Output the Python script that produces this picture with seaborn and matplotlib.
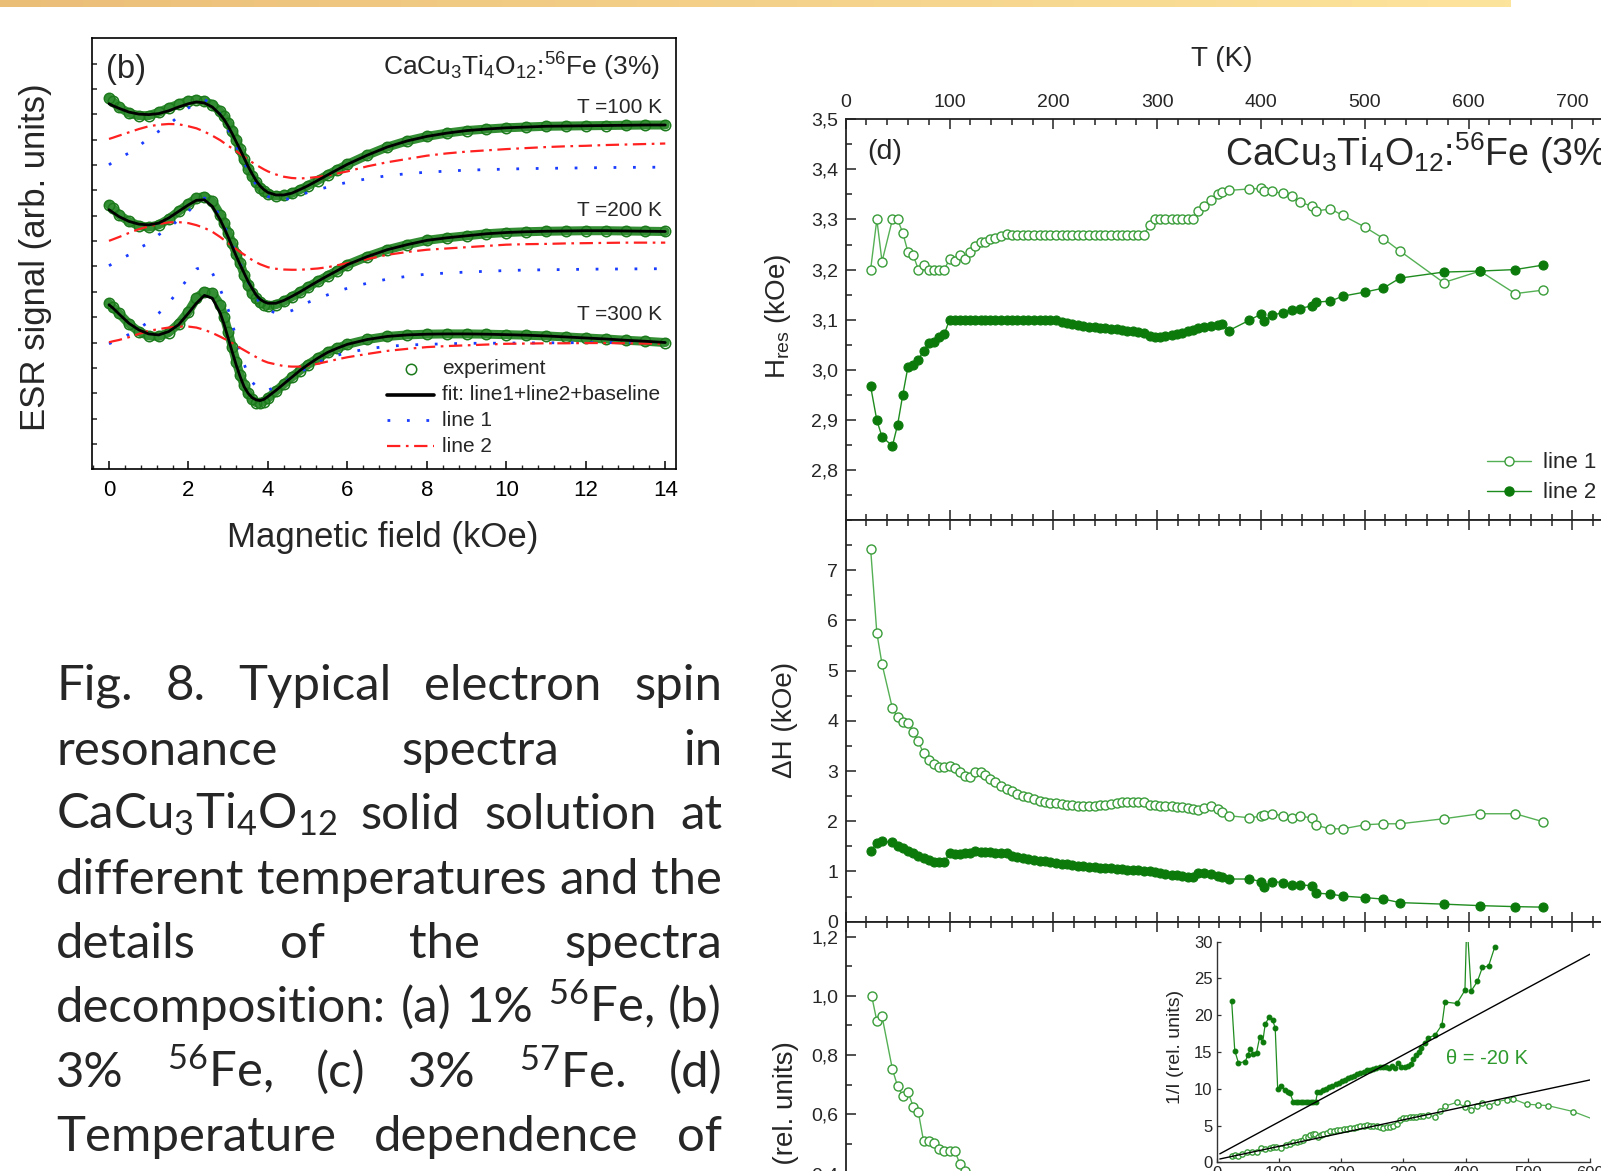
import numpy as np
import matplotlib
matplotlib.use("Agg")
import matplotlib.pyplot as plt
import seaborn as sns
from matplotlib import font_manager
from matplotlib.lines import Line2D
from matplotlib.ticker import MultipleLocator, FuncFormatter, NullFormatter, FixedLocator
from matplotlib.colors import LinearSegmentedColormap

# ---------------- panel (b): ESR spectra (arb. units, tick spacing = 1) ----------------
field_kOe = [0, 0.1, 0.25, 0.5, 0.75, 1.0, 1.25, 1.5, 1.75, 2.0,
             2.2, 2.4, 2.6, 2.8, 2.9, 3.0, 3.1, 3.2, 3.3, 3.4,
             3.5, 3.6, 3.7, 3.8, 3.9, 4.0, 4.2, 4.4, 4.6, 4.8,
             5.0, 5.25, 5.5, 5.75, 6.0, 6.5, 7.0, 7.5, 8.0, 8.5,
             9.0, 9.5, 10, 10.5, 11, 11.5, 12, 12.5, 13, 13.5,
             14]

exp_100K = [14.64, 14.51, 14.29, 14.05, 13.95, 13.95, 14.08, 14.25, 14.40, 14.53,
            14.57, 14.52, 14.38, 14.12, 13.92, 13.66, 13.36, 13.00, 12.62, 12.22,
            11.86, 11.57, 11.32, 11.10, 10.96, 10.86, 10.78, 10.80, 10.88, 11.02,
            11.18, 11.39, 11.61, 11.82, 12.03, 12.39, 12.71, 12.95, 13.13, 13.26,
            13.36, 13.42, 13.47, 13.50, 13.53, 13.54, 13.55, 13.56, 13.57, 13.58,
            13.58]
fit_100K = [14.42, 14.34, 14.24, 14.09, 14.01, 13.99, 14.03, 14.14, 14.29, 14.42,
            14.49, 14.45, 14.29, 13.99, 13.79, 13.53, 13.24, 12.92, 12.61, 12.28,
            11.95, 11.66, 11.39, 11.18, 11.03, 10.92, 10.82, 10.82, 10.89, 11.03,
            11.18, 11.39, 11.61, 11.82, 12.03, 12.39, 12.71, 12.95, 13.13, 13.26,
            13.36, 13.42, 13.47, 13.50, 13.53, 13.54, 13.55, 13.56, 13.57, 13.58,
            13.58]
line1_100K = [12.01, 12.12, 12.28, 12.47, 12.74, 13.07, 13.33, 13.59, 13.92, 14.25,
              14.47, 14.58, 14.42, 13.99, 13.70, 13.39, 13.07, 12.74, 12.42, 12.11,
              11.79, 11.49, 11.24, 11.03, 10.88, 10.76, 10.66, 10.63, 10.70, 10.80,
              10.92, 11.03, 11.13, 11.23, 11.32, 11.46, 11.58, 11.66, 11.72, 11.76,
              11.80, 11.82, 11.84, 11.86, 11.87, 11.88, 11.89, 11.90, 11.91, 11.91,
              11.92]
line2_100K = [13.03, 13.08, 13.16, 13.29, 13.42, 13.53, 13.59, 13.62, 13.61, 13.53,
              13.45, 13.32, 13.16, 12.98, 12.87, 12.76, 12.66, 12.55, 12.44, 12.33,
              12.21, 12.11, 12.01, 11.92, 11.83, 11.75, 11.63, 11.54, 11.49, 11.47,
              11.49, 11.53, 11.59, 11.67, 11.75, 11.95, 12.11, 12.24, 12.37, 12.46,
              12.53, 12.58, 12.63, 12.67, 12.71, 12.74, 12.76, 12.79, 12.81, 12.83,
              12.85]

exp_200K = [10.43, 10.30, 10.04, 9.78, 9.61, 9.55, 9.64, 9.87, 10.17, 10.47,
            10.70, 10.76, 10.57, 10.04, 9.71, 9.32, 8.92, 8.50, 8.13, 7.67,
            7.28, 6.95, 6.75, 6.58, 6.49, 6.45, 6.49, 6.62, 6.80, 6.98,
            7.18, 7.41, 7.63, 7.84, 8.07, 8.39, 8.66, 8.86, 9.03, 9.13,
            9.21, 9.29, 9.34, 9.37, 9.39, 9.40, 9.41, 9.41, 9.40, 9.39,
            9.38]
fit_200K = [10.24, 10.13, 9.97, 9.78, 9.67, 9.64, 9.71, 9.91, 10.17, 10.43,
            10.61, 10.63, 10.37, 9.84, 9.51, 9.16, 8.79, 8.42, 8.07, 7.74,
            7.41, 7.14, 6.88, 6.71, 6.61, 6.55, 6.55, 6.66, 6.82, 6.99,
            7.18, 7.41, 7.63, 7.84, 8.07, 8.39, 8.66, 8.86, 9.03, 9.13,
            9.21, 9.29, 9.34, 9.37, 9.39, 9.40, 9.41, 9.41, 9.40, 9.39,
            9.38]
line1_200K = [8.03, 8.12, 8.26, 8.46, 8.72, 8.92, 9.25, 9.51, 9.84, 10.17,
              10.53, 10.70, 10.50, 9.97, 9.62, 9.25, 8.87, 8.50, 8.12, 7.74,
              7.40, 7.08, 6.80, 6.55, 6.40, 6.29, 6.16, 6.16, 6.26, 6.42,
              6.58, 6.73, 6.88, 7.02, 7.14, 7.34, 7.50, 7.61, 7.70, 7.74,
              7.78, 7.81, 7.84, 7.86, 7.87, 7.88, 7.89, 7.90, 7.90, 7.91,
              7.91]
line2_200K = [9.01, 9.07, 9.16, 9.32, 9.47, 9.58, 9.67, 9.74, 9.75, 9.71,
              9.63, 9.52, 9.37, 9.16, 9.04, 8.92, 8.80, 8.69, 8.57, 8.47,
              8.36, 8.26, 8.17, 8.09, 8.03, 7.97, 7.91, 7.88, 7.87, 7.87,
              7.89, 7.92, 7.97, 8.05, 8.13, 8.29, 8.46, 8.57, 8.66, 8.71,
              8.76, 8.81, 8.86, 8.88, 8.89, 8.91, 8.92, 8.93, 8.94, 8.94,
              8.94]

exp_300K = [6.55, 6.39, 6.16, 5.74, 5.43, 5.26, 5.24, 5.39, 5.74, 6.22,
            6.75, 7.01, 6.95, 6.49, 6.00, 5.43, 4.84, 4.25, 3.72, 3.33,
            3.00, 2.76, 2.63, 2.61, 2.67, 2.80, 3.08, 3.36, 3.63, 3.89,
            4.12, 4.38, 4.61, 4.78, 4.93, 5.12, 5.24, 5.30, 5.33, 5.34,
            5.34, 5.33, 5.31, 5.29, 5.26, 5.22, 5.18, 5.14, 5.09, 5.05,
            5.00]
fit_300K = [6.49, 6.36, 6.13, 5.76, 5.50, 5.34, 5.30, 5.43, 5.70, 6.16,
            6.55, 6.86, 6.75, 6.16, 5.70, 5.17, 4.64, 4.12, 3.66, 3.26,
            3.00, 2.83, 2.74, 2.71, 2.76, 2.87, 3.11, 3.37, 3.63, 3.89,
            4.12, 4.38, 4.61, 4.78, 4.93, 5.12, 5.24, 5.30, 5.33, 5.34,
            5.34, 5.33, 5.31, 5.29, 5.26, 5.22, 5.18, 5.14, 5.09, 5.05,
            5.00]
line1_300K = [4.95, 5.02, 5.12, 5.32, 5.55, 5.82, 6.15, 6.55, 7.05, 7.55,
              7.90, 8.00, 7.75, 7.10, 6.70, 6.30, 5.75, 5.20, 4.65, 4.15,
              3.75, 3.45, 3.27, 3.15, 3.11, 3.12, 3.25, 3.42, 3.62, 3.82,
              4.00, 4.20, 4.38, 4.50, 4.60, 4.75, 4.85, 4.90, 4.93, 4.95,
              4.97, 4.97, 4.98, 4.98, 4.99, 4.99, 5.00, 5.00, 5.00, 5.00,
              5.00]
line2_300K = [5.01, 5.05, 5.10, 5.21, 5.34, 5.46, 5.53, 5.59, 5.63, 5.63,
              5.59, 5.50, 5.38, 5.23, 5.15, 5.08, 4.98, 4.89, 4.79, 4.70,
              4.61, 4.52, 4.43, 4.34, 4.27, 4.21, 4.14, 4.07, 4.05, 4.05,
              4.09, 4.16, 4.25, 4.34, 4.42, 4.55, 4.67, 4.75, 4.82, 4.86,
              4.89, 4.92, 4.95, 4.96, 4.97, 4.97, 4.98, 4.98, 4.97, 4.96,
              4.95]

spectrum_labels = ["T =100 K", "T =200 K", "T =300 K"]
spectrum_label_y = [14.29, 10.20, 6.11]
legend_b_labels = ["experiment", "fit: line1+line2+baseline", "line 1", "line 2"]

# ---------------- panel (d): temperature dependences ----------------
T_K = [24, 30, 35, 45, 50, 55, 60, 65, 70, 75,
       80, 85, 90, 95, 100, 105, 110, 115, 120, 125,
       130, 134, 139, 144, 150, 155, 160, 165, 171, 176,
       181, 187, 192, 197, 203, 208, 213, 218, 224, 229,
       234, 240, 245, 250, 256, 261, 266, 271, 277, 282,
       287, 293, 298, 303, 308, 314, 319, 324, 330, 335,
       339, 345, 352, 359, 363, 369, 389, 400, 403, 411,
       421, 430, 438, 449, 453, 467, 479, 500, 518, 534,
       576, 611, 645, 672]

Hres_line1 = [3.200, 3.300, 3.216, 3.300, 3.300, 3.273, 3.235, 3.229, 3.200, 3.210,
              3.200, 3.200, 3.200, 3.200, 3.221, 3.217, 3.229, 3.221, 3.235, 3.247,
              3.255, 3.256, 3.262, 3.264, 3.268, 3.271, 3.270, 3.270, 3.270, 3.270,
              3.270, 3.270, 3.270, 3.270, 3.270, 3.270, 3.270, 3.270, 3.270, 3.270,
              3.270, 3.270, 3.270, 3.270, 3.270, 3.270, 3.270, 3.270, 3.270, 3.270,
              3.270, 3.288, 3.300, 3.300, 3.300, 3.300, 3.300, 3.300, 3.300, 3.300,
              3.316, 3.327, 3.338, 3.350, 3.355, 3.358, 3.361, 3.362, 3.356, 3.356,
              3.352, 3.346, 3.334, 3.327, 3.317, 3.321, 3.308, 3.285, 3.262, 3.237,
              3.174, 3.197, 3.152, 3.159]
Hres_line2 = [2.967, 2.899, 2.866, 2.848, 2.890, 2.950, 3.006, 3.009, 3.020, 3.038,
              3.053, 3.056, 3.065, 3.071, 3.100, 3.100, 3.100, 3.100, 3.100, 3.100,
              3.100, 3.100, 3.100, 3.100, 3.100, 3.100, 3.100, 3.100, 3.100, 3.100,
              3.100, 3.100, 3.100, 3.100, 3.099, 3.095, 3.093, 3.091, 3.089, 3.087,
              3.086, 3.085, 3.083, 3.083, 3.082, 3.081, 3.080, 3.078, 3.077, 3.075,
              3.073, 3.068, 3.065, 3.065, 3.067, 3.069, 3.071, 3.074, 3.077, 3.080,
              3.083, 3.086, 3.088, 3.090, 3.091, 3.078, 3.099, 3.111, 3.098, 3.109,
              3.114, 3.120, 3.122, 3.128, 3.135, 3.137, 3.147, 3.155, 3.163, 3.183,
              3.195, 3.197, 3.200, 3.209]
dH_line1 = [7.43, 5.75, 5.13, 4.25, 4.07, 3.97, 3.95, 3.78, 3.59, 3.35,
            3.23, 3.15, 3.09, 3.09, 3.10, 3.07, 2.99, 2.91, 2.88, 2.98,
            2.98, 2.92, 2.85, 2.78, 2.71, 2.65, 2.60, 2.55, 2.51, 2.49,
            2.45, 2.41, 2.39, 2.37, 2.37, 2.35, 2.33, 2.32, 2.31, 2.31,
            2.31, 2.31, 2.32, 2.33, 2.35, 2.37, 2.38, 2.38, 2.38, 2.39,
            2.38, 2.33, 2.32, 2.31, 2.31, 2.30, 2.29, 2.28, 2.27, 2.25,
            2.23, 2.26, 2.30, 2.24, 2.19, 2.11, 2.07, 2.10, 2.12, 2.15,
            2.11, 2.07, 2.10, 2.07, 1.92, 1.85, 1.85, 1.93, 1.95, 1.95,
            2.05, 2.15, 2.15, 1.99]
dH_line2 = [1.40, 1.57, 1.60, 1.58, 1.51, 1.47, 1.40, 1.37, 1.31, 1.27,
            1.22, 1.19, 1.18, 1.18, 1.37, 1.35, 1.35, 1.36, 1.37, 1.40,
            1.39, 1.38, 1.38, 1.37, 1.37, 1.36, 1.31, 1.29, 1.27, 1.25,
            1.23, 1.21, 1.20, 1.18, 1.17, 1.15, 1.14, 1.13, 1.11, 1.11,
            1.09, 1.09, 1.07, 1.07, 1.06, 1.05, 1.04, 1.03, 1.03, 1.02,
            1.01, 1.00, 0.99, 0.97, 0.95, 0.94, 0.93, 0.91, 0.90, 0.89,
            0.97, 0.96, 0.95, 0.92, 0.90, 0.85, 0.85, 0.80, 0.70, 0.80,
            0.78, 0.73, 0.73, 0.72, 0.57, 0.55, 0.51, 0.48, 0.45, 0.38,
            0.35, 0.32, 0.30, 0.29]

T_int = [25, 30, 35, 45, 50, 55, 60, 65, 70, 75, 80, 85, 90, 95, 100, 105, 110, 115, 120]
I_line1 = [1.000, 0.915, 0.931, 0.752, 0.695, 0.663, 0.676, 0.626, 0.607, 0.510,
           0.510, 0.504, 0.483, 0.476, 0.476, 0.477, 0.433, 0.409, 0.380]

# inset: 1/I vs T
T_inv_line2 = [24, 29, 35, 46, 50, 54, 59, 64, 69, 74,
               78, 84, 90, 94, 98, 104, 109, 114, 118, 123,
               127, 131, 135, 139, 143, 147, 151, 155, 159, 162,
               166, 171, 176, 181, 186, 191, 196, 201, 206, 211,
               216, 221, 226, 231, 236, 241, 246, 251, 256, 262,
               267, 272, 277, 282, 287, 292, 297, 302, 308, 312,
               316, 321, 325, 329, 335, 339, 351, 362, 367, 386,
               399, 402, 409, 419, 427, 437, 447]
inv_line2 = [22.0, 15.2, 13.5, 13.7, 14.6, 15.4, 14.7, 14.9, 17.0, 16.4,
             18.8, 19.7, 19.3, 18.3, 10.0, 10.4, 9.9, 9.5, 9.4, 8.2,
             8.2, 8.2, 8.2, 8.2, 8.2, 8.2, 8.2, 8.2, 8.2, 9.5,
             9.6, 9.8, 10.0, 10.2, 10.4, 10.6, 10.8, 11.0, 11.2, 11.4,
             11.6, 11.8, 12.0, 12.2, 12.3, 12.5, 12.6, 12.7, 12.8, 12.9,
             12.9, 13.0, 12.8, 13.1, 12.8, 13.5, 13.0, 12.9, 13.1, 13.4,
             14.0, 14.6, 15.0, 15.5, 16.2, 16.9, 17.3, 18.7, 21.8, 21.6,
             23.4, 33.0, 23.3, 24.6, 26.5, 26.7, 29.3]
T_inv_line1 = [24, 29, 35, 41, 48, 56, 64, 72, 78, 86,
               91, 96, 104, 112, 118, 123, 129, 134, 138, 142,
               146, 150, 154, 158, 163, 167, 171, 177, 182, 188,
               193, 198, 204, 209, 214, 220, 225, 230, 236, 241,
               246, 252, 257, 262, 268, 273, 279, 284, 289, 295,
               300, 305, 311, 316, 321, 327, 332, 340, 351, 359,
               367, 386, 399, 402, 409, 419, 427, 437, 450, 466,
               477, 498, 517, 533, 573, 610]
inv_line1 = [0.9, 1.0, 0.9, 1.1, 1.35, 1.45, 1.45, 1.9, 1.8, 2.0,
             2.1, 2.05, 1.9, 2.35, 2.5, 2.7, 2.8, 2.95, 3.1, 3.4,
             3.5, 3.7, 3.8, 3.9, 3.5, 3.7, 3.8, 4.0, 4.2, 4.3,
             4.4, 4.45, 4.5, 4.55, 4.6, 4.7, 4.85, 4.9, 5.0, 5.05,
             5.0, 5.0, 4.9, 4.85, 4.7, 4.75, 4.85, 4.9, 5.2, 5.75,
             6.0, 6.05, 6.1, 6.15, 6.2, 6.25, 6.3, 6.4, 6.2, 7.0,
             7.65, 8.15, 7.5, 8.0, 7.1, 7.6, 8.0, 7.65, 8.25, 8.5,
             8.6, 7.9, 7.8, 7.7, 6.9, 5.7]
fit_T = [5, 600]
fit_inv_line2 = [1.15, 28.3]
fit_inv_line1 = [0.45, 11.2]

caption_lines = [
    ["Fig.", "8.", "Typical", "electron", "spin"],
    ["resonance", "spectra", "in"],
    [r"CaCu$_3$Ti$_4$O$_{12}$", "solid", "solution", "at"],
    ["different", "temperatures", "and", "the"],
    ["details", "of", "the", "spectra"],
    ["decomposition:", "(a)", "1%", r"$^{56}$Fe,", "(b)"],
    ["3%", r"$^{56}$Fe,", "(c)", "3%", r"$^{57}$Fe.", "(d)"],
    ["Temperature", "dependence", "of"],
]

# ---------------- styling ----------------
sns.set_theme(style="ticks")
plt.rcParams["font.family"] = ["Liberation Sans", "DejaVu Sans"]
plt.rcParams["mathtext.default"] = "regular"
plt.rcParams["axes.unicode_minus"] = False

_names = {f.name for f in font_manager.fontManager.ttflist}
if "Liberation Sans Narrow" in _names:
    NARROW = ["Liberation Sans Narrow", "Liberation Sans", "DejaVu Sans"]
    NS = 1.2
else:
    NARROW = ["Liberation Sans", "DejaVu Sans"]
    NS = 1.0

W_PX, H_PX = 1601, 1171
fig = plt.figure(figsize=(W_PX / 100, H_PX / 100), dpi=100)
fig.patch.set_facecolor("white")


def rect(l, t, r, b):
    return [l / W_PX, 1 - b / H_PX, (r - l) / W_PX, (b - t) / H_PX]


def fx(x):
    return x / W_PX


def fy(y):
    return 1 - y / H_PX


# top decorative banner
axban = fig.add_axes(rect(0, 0, 1510, 7))
axban.imshow(np.linspace(0, 1, 256)[None, :], aspect="auto",
             cmap=LinearSegmentedColormap.from_list("ban", ["#EBBE78", "#FDE49C"]))
axban.axis("off")

# ---------------- panel (b) ----------------
EXP_EDGE = "#1c7a1c"
EXP_BAND = "#348f34"
BLUE = "#1a3cff"
RED = "#ff2020"
DOT = (0, (1, 6))
DASHDOT = (0, (6, 2.5, 1.2, 2.5))

axb = fig.add_axes(rect(92.3, 38.3, 676, 469.3))
spectra = [(exp_100K, fit_100K, line1_100K, line2_100K),
           (exp_200K, fit_200K, line1_200K, line2_200K),
           (exp_300K, fit_300K, line1_300K, line2_300K)]
for ex, fit, l1, l2 in spectra:
    sns.lineplot(x=field_kOe, y=ex, ax=axb, estimator=None, sort=False, color=EXP_BAND,
                 lw=6.5, marker="o", ms=7.5, markerfacecolor="none",
                 markeredgecolor=EXP_EDGE, markeredgewidth=1.1, zorder=2)
    sns.lineplot(x=field_kOe, y=l1, ax=axb, estimator=None, sort=False, color=BLUE,
                 lw=2.0, linestyle=DOT, zorder=3)
    sns.lineplot(x=field_kOe, y=l2, ax=axb, estimator=None, sort=False, color=RED,
                 lw=1.6, linestyle=DASHDOT, zorder=3)
    sns.lineplot(x=field_kOe, y=fit, ax=axb, estimator=None, sort=False, color="black",
                 lw=2.0, zorder=4)

axb.set_xlim(-0.42, 14.27)
axb.set_ylim(0, 17)
axb.set_xlabel("")
axb.set_ylabel("")
axb.xaxis.set_major_locator(MultipleLocator(2))
axb.xaxis.set_minor_locator(MultipleLocator(0.4))
axb.yaxis.set_major_locator(FixedLocator(list(range(1, 17))))
axb.yaxis.set_major_formatter(NullFormatter())
axb.tick_params(axis="x", which="major", direction="in", length=6, width=1.1,
                labelsize=16 * NS, labelfontfamily=NARROW, pad=8, top=False, colors="black")
axb.tick_params(axis="x", which="minor", direction="in", length=3, width=1.0, top=False)
axb.tick_params(axis="y", which="major", direction="in", length=3.5, width=1.1,
                left=True, right=False)
for sp in axb.spines.values():
    sp.set_linewidth(1.2)
    sp.set_color("black")

for lab, yy in zip(spectrum_labels, spectrum_label_y):
    axb.text(13.92, yy, lab, ha="right", va="center", fontsize=15 * NS, family=NARROW)

fig.text(fx(106), fy(78), "(b)", fontsize=23.5 * NS, family=NARROW, ha="left", va="baseline")
fig.text(fx(660), fy(76), r"CaCu$_3$Ti$_4$O$_{12}$:$^{56}$Fe (3%)", fontsize=19 * NS,
         family=NARROW, ha="right", va="baseline")
fig.text(fx(383), fy(538), "Magnetic field (kOe)", fontsize=25 * NS, family=NARROW,
         ha="center", va="center")
fig.text(fx(36), fy(257), "ESR signal (arb. units)", fontsize=25, rotation=90,
         ha="center", va="center")

# legend of (b), drawn entry by entry
hb = [dict(ls="none", marker="o", ms=7.5, mfc="none", mec=EXP_EDGE, mew=1.1),
      dict(color="black", lw=2.6),
      dict(color=BLUE, lw=2.0, ls=DOT),
      dict(color=RED, lw=1.6, ls=DASHDOT)]
leg_rows = [368.6, 395.0, 420.0, 446.2]
for kw, lab, yy in zip(hb, legend_b_labels, leg_rows):
    if kw.get("marker"):
        fig.add_artist(Line2D([fx(411)], [fy(yy)], transform=fig.transFigure, **kw))
    else:
        fig.add_artist(Line2D([fx(387), fx(434)], [fy(yy), fy(yy)], transform=fig.transFigure, **kw))
    fig.text(fx(441.7), fy(yy), lab, fontsize=15 * NS, family=NARROW, ha="left", va="center")

# ---------------- panel (d) ----------------
G_OPEN = "#3a9d3a"
G_FILL = "#0b7a0b"
G_LINE1 = "#55b055"
G_LINE2 = "#1f8c1f"

ax1 = fig.add_axes(rect(845.7, 119.3, 1624.2, 520))
ax2 = fig.add_axes(rect(845.7, 520, 1624.2, 921.7))
ax3 = fig.add_axes(rect(845.7, 921.7, 1624.2, 1321.7))


def open_series(ax, x, y, ms=6.5, lw=1.0):
    sns.lineplot(x=x, y=y, ax=ax, estimator=None, sort=False, color=G_LINE1, lw=lw,
                 marker="o", ms=ms, markerfacecolor="white", markeredgecolor=G_OPEN,
                 markeredgewidth=1.0, zorder=3)


def filled_series(ax, x, y, ms=6.5, lw=1.0):
    sns.lineplot(x=x, y=y, ax=ax, estimator=None, sort=False, color=G_LINE2, lw=lw,
                 marker="o", ms=ms, markerfacecolor=G_FILL, markeredgecolor=G_FILL,
                 markeredgewidth=0.8, zorder=3)


open_series(ax1, T_K, Hres_line1)
filled_series(ax1, T_K, Hres_line2)
open_series(ax2, T_K, dH_line1)
filled_series(ax2, T_K, dH_line2)
open_series(ax3, T_int, I_line1)

comma = FuncFormatter(lambda v, p: f"{v:.1f}".replace(".", ","))
for ax in (ax1, ax2, ax3):
    ax.set_xlim(0, 750)
    ax.set_xlabel("")
    ax.set_ylabel("")
    ax.xaxis.set_major_locator(MultipleLocator(100))
    ax.xaxis.set_minor_locator(MultipleLocator(20))
    ax.tick_params(axis="x", which="both", direction="in", top=True, bottom=True,
                   labelbottom=False, labeltop=False, width=1.1, color="#222222")
    ax.tick_params(axis="x", which="major", length=7)
    ax.tick_params(axis="x", which="minor", length=4)
    ax.tick_params(axis="y", which="both", direction="in", left=True, right=False,
                   width=1.1, color="#222222")
    ax.tick_params(axis="y", which="major", length=7, labelsize=14, pad=5.5)
    ax.tick_params(axis="y", which="minor", length=4)
    for sp in ax.spines.values():
        sp.set_linewidth(1.3)
        sp.set_color("#222222")

ax1.tick_params(axis="x", which="major", labeltop=True, labelsize=14, pad=6)
ax1.set_ylim(2.7, 3.5)
ax1.yaxis.set_major_locator(FixedLocator([2.8, 2.9, 3.0, 3.1, 3.2, 3.3, 3.4, 3.5]))
ax1.yaxis.set_minor_locator(MultipleLocator(0.05))
ax1.yaxis.set_major_formatter(comma)

ax2.set_ylim(0, 8)
ax2.yaxis.set_major_locator(FixedLocator([0, 1, 2, 3, 4, 5, 6, 7]))
ax2.yaxis.set_minor_locator(MultipleLocator(0.5))
ax2.yaxis.set_major_formatter(FuncFormatter(lambda v, p: f"{v:.0f}"))

ax3.set_ylim(-0.1, 1.25)
ax3.yaxis.set_major_locator(FixedLocator([0.0, 0.2, 0.4, 0.6, 0.8, 1.0, 1.2]))
ax3.yaxis.set_minor_locator(MultipleLocator(0.1))
ax3.yaxis.set_major_formatter(comma)

hd = [Line2D([], [], color=G_LINE1, lw=1.0, marker="o", ms=6.5, mfc="white", mec=G_OPEN),
      Line2D([], [], color=G_LINE2, lw=1.0, marker="o", ms=6.5, mfc=G_FILL, mec=G_FILL)]
ax1.legend(hd, ["line 1", "line 2"], loc="upper left", bbox_to_anchor=(fx(1486.6), fy(452.5)),
           bbox_transform=fig.transFigure, frameon=False, fontsize=16, handlelength=2.0,
           handletextpad=0.56, labelspacing=0.40, borderpad=0, borderaxespad=0, numpoints=1)

fig.text(fx(1225), fy(166), r"CaCu$_3$Ti$_4$O$_{12}$:$^{56}$Fe (3%)", fontsize=27,
         ha="left", va="baseline")
fig.text(fx(867), fy(152), "(d)", fontsize=20.5, ha="left", va="center")
fig.text(fx(1222), fy(59), "T (K)", fontsize=20, ha="center", va="center")
fig.text(fx(778), fy(316), r"H$_{res}$ (kOe)", fontsize=20, rotation=90, ha="center", va="center")
fig.text(fx(785), fy(720), "ΔH (kOe)", fontsize=20, rotation=90, ha="center", va="center")
fig.text(fx(786), fy(1041), "I (rel. units)", fontsize=20, rotation=90, ha="center", va="top")

# inset
axi = fig.add_axes(rect(1216.7, 941.7, 1590, 1162.3))
filled_series(axi, T_inv_line2, inv_line2, ms=3.4, lw=0.9)
open_series(axi, T_inv_line1, inv_line1, ms=3.8, lw=0.9)
sns.lineplot(x=fit_T, y=fit_inv_line2, ax=axi, estimator=None, sort=False, color="black", lw=1.0, zorder=4)
sns.lineplot(x=fit_T, y=fit_inv_line1, ax=axi, estimator=None, sort=False, color="black", lw=1.0, zorder=4)
axi.set_xlim(0, 600)
axi.set_ylim(0, 30)
axi.set_xlabel("")
axi.set_ylabel("")
axi.set_facecolor("white")
axi.xaxis.set_major_locator(MultipleLocator(100))
axi.yaxis.set_major_locator(MultipleLocator(5))
axi.spines["top"].set_visible(False)
axi.spines["right"].set_visible(False)
for sp in ("left", "bottom"):
    axi.spines[sp].set_linewidth(1.0)
    axi.spines[sp].set_color("#333333")
axi.tick_params(axis="both", which="major", direction="in", length=3, width=0.9,
                labelsize=12, pad=3, color="#333333")
fig.text(fx(1175), fy(1047), "1/I (rel. units)", fontsize=14, rotation=90, ha="center", va="center")
fig.text(fx(1487), fy(1059), "θ = -20 K", fontsize=14.5, color="#2e9a2e", ha="center", va="center")

# ---------------- caption (justified) ----------------
renderer = fig.canvas.get_renderer()
CAP_FONT = ["Lato", "DejaVu Sans"]
cap_left, cap_right = 56.0, 722.0
cap_baselines = [700, 765, 829, 894, 958, 1022, 1087, 1151]


def text_width(s, fs):
    t = fig.text(0, 0, s, fontsize=fs, family=CAP_FONT)
    w = t.get_window_extent(renderer=renderer).width
    t.remove()
    return w


fs0 = 30.0
space0 = text_width("x x", fs0) - text_width("xx", fs0)
natural = [sum(text_width(w, fs0) for w in line) + space0 * (len(line) - 1) for line in caption_lines]
fs_cap = fs0 * (cap_right - cap_left) / max(natural)
for line, base in zip(caption_lines, cap_baselines):
    widths = [text_width(w, fs_cap) for w in line]
    gap = (cap_right - cap_left - sum(widths)) / (len(line) - 1)
    x = cap_left
    for word, wd in zip(line, widths):
        fig.text(fx(x), fy(base), word, fontsize=fs_cap, family=CAP_FONT, ha="left", va="baseline")
        x += wd + gap

fig.savefig("out.png", dpi=100, facecolor="white")
